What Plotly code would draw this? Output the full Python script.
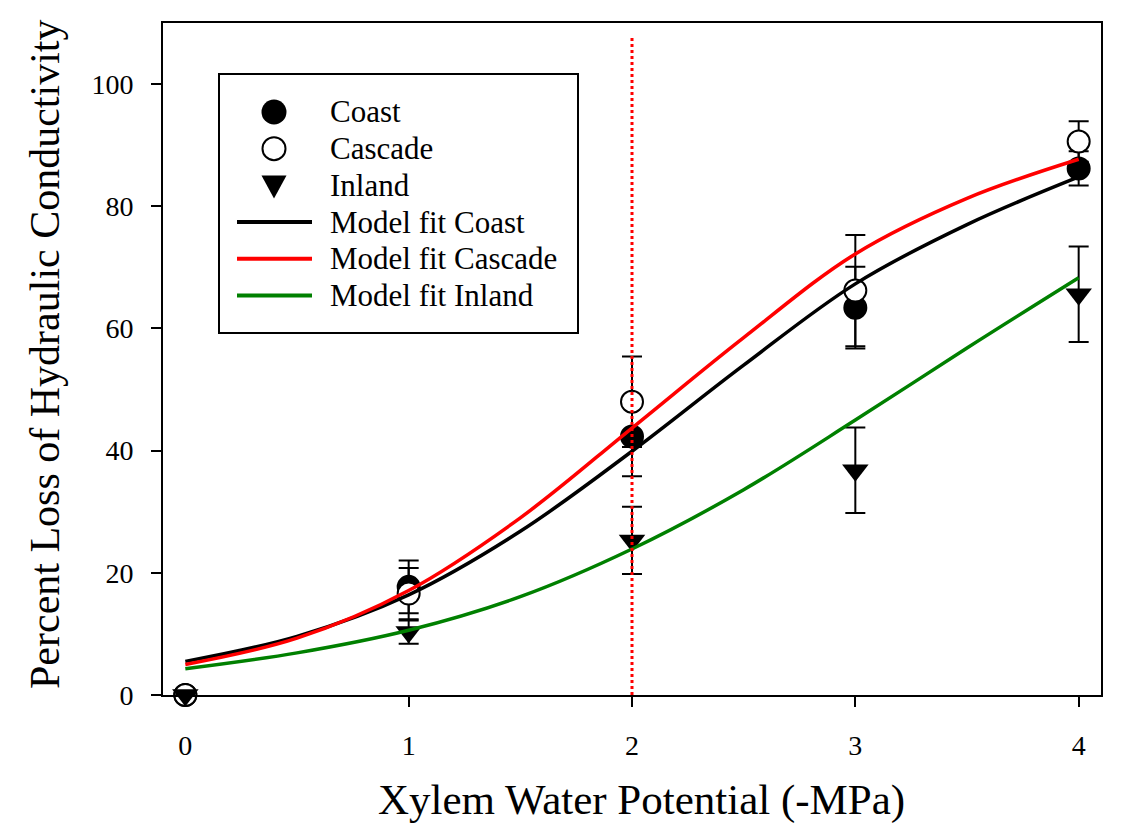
import plotly.graph_objects as go

# Measured percent loss of conductivity (mean and standard error) per site
water_potential = [0, 1, 2, 3, 4]
coast_plc = [0, 17.7, 42.3, 63.4, 86.2]
coast_se = [0, 4.3, 6.5, 6.7, 2.8]
cascade_plc = [0, 16.6, 48.0, 66.2, 90.6]
cascade_se = [0, 4.2, 7.4, 9.1, 3.3]
inland_plc = [0, 10.3, 25.3, 36.8, 65.6]
inland_se = [0, 1.9, 5.5, 7.0, 7.8]

# Fitted vulnerability curves
fit_x = [0, 0.5, 1, 1.5, 2, 2.5, 3, 3.5, 4]
fit_coast = [5.5, 9.6, 16.4, 26.8, 39.9, 54.0, 67.3, 77.0, 84.8]
fit_cascade = [5.0, 9.3, 17.1, 29.0, 43.7, 58.5, 72.2, 81.3, 87.7]
fit_inland = [4.3, 6.9, 10.6, 16.1, 23.9, 33.6, 45.0, 56.8, 68.3]

# Reference water potential marked with a dotted line
threshold_x = 2
threshold_top = 108

x_ticks = [0, 1, 2, 3, 4]
y_ticks = [0, 20, 40, 60, 80, 100]

SERIF = "Liberation Serif"
RED = "#ff0000"
GREEN = "#008000"

fig = go.Figure()


def err(values):
    return dict(type="data", array=values, visible=True, color="black",
                thickness=2, width=10)


fig.add_trace(go.Scatter(
    x=water_potential, y=coast_plc, mode="markers", name="Coast",
    marker=dict(symbol="circle", size=22, color="black",
                line=dict(color="black", width=2)),
    error_y=err(coast_se), cliponaxis=False, showlegend=False))
fig.add_trace(go.Scatter(
    x=water_potential, y=cascade_plc, mode="markers", name="Cascade",
    marker=dict(symbol="circle", size=22, color="white",
                line=dict(color="black", width=2)),
    error_y=err(cascade_se), cliponaxis=False, showlegend=False))
fig.add_trace(go.Scatter(
    x=water_potential, y=inland_plc, mode="markers", name="Inland",
    marker=dict(symbol="triangle-down", size=23, color="black",
                line=dict(color="black", width=0)),
    error_y=err(inland_se), cliponaxis=False, showlegend=False))

for name, ys, col in [("Model fit Coast", fit_coast, "black"),
                      ("Model fit Cascade", fit_cascade, RED),
                      ("Model fit Inland", fit_inland, GREEN)]:
    fig.add_trace(go.Scatter(
        x=fit_x, y=ys, mode="lines", name=name,
        line=dict(color=col, width=3.5, shape="spline", smoothing=1),
        showlegend=False))

# Plot area in pixels
PL, PR, PT, PB = 163, 1101, 23, 695


def px(xp):
    return (xp - PL) / (PR - PL)


def py(yp):
    return (PB - yp) / (PB - PT)


shapes = [dict(type="line", xref="x", yref="y", x0=threshold_x, x1=threshold_x,
               y0=0, y1=threshold_top, layer="above",
               line=dict(color=RED, width=3, dash="dot"))]

# Hand-built legend box
shapes.append(dict(type="rect", xref="paper", yref="paper",
                   x0=px(219), x1=px(578), y0=py(333), y1=py(74),
                   line=dict(color="black", width=2),
                   fillcolor="rgba(0,0,0,0)", layer="above"))

legend_rows = [("Coast", "filled"), ("Cascade", "open"), ("Inland", "tri"),
               ("Model fit Coast", "black"), ("Model fit Cascade", RED),
               ("Model fit Inland", GREEN)]
annotations = []
row0, row_step = 112, 36.7
key_cx, line_x0, line_x1, text_x = 274, 237, 312, 328
for i, (label, key) in enumerate(legend_rows):
    ry = row0 + i * row_step
    common = dict(xref="paper", yref="paper", xsizemode="pixel",
                  ysizemode="pixel", xanchor=px(key_cx), yanchor=py(ry),
                  layer="above")
    if key == "filled":
        shapes.append(dict(type="circle", x0=-12.5, x1=12.5, y0=-12.5, y1=12.5,
                           fillcolor="black", line=dict(width=0), **common))
    elif key == "open":
        shapes.append(dict(type="circle", x0=-11.5, x1=11.5, y0=-11.5, y1=11.5,
                           fillcolor="white", line=dict(color="black", width=2),
                           **common))
    elif key == "tri":
        shapes.append(dict(type="path", path="M-12.5,10 L12.5,10 L0,-13 Z",
                           fillcolor="black", line=dict(width=0), **common))
    else:
        shapes.append(dict(type="line", xref="paper", yref="paper",
                           x0=px(line_x0), x1=px(line_x1), y0=py(ry), y1=py(ry),
                           line=dict(color=key, width=4), layer="above"))
    annotations.append(dict(text=label, xref="paper", yref="paper",
                            x=px(text_x), y=py(ry), xanchor="left",
                            yanchor="middle", showarrow=False,
                            font=dict(family=SERIF, size=31, color="black")))

# Axis titles
annotations.append(dict(text="Xylem Water Potential (-MPa)", xref="paper",
                        yref="paper", x=px(641), y=py(800), xanchor="center",
                        yanchor="middle", showarrow=False,
                        font=dict(family=SERIF, size=43, color="black")))
annotations.append(dict(text="Percent Loss of Hydraulic Conductivity",
                        xref="paper", yref="paper", x=px(45), y=py(354),
                        xanchor="center", yanchor="middle", textangle=-90,
                        showarrow=False,
                        font=dict(family=SERIF, size=42, color="black")))

axis_common = dict(showgrid=False, zeroline=False, showline=True,
                   linecolor="black", linewidth=2, mirror=True,
                   ticks="outside", ticklen=10, tickwidth=2, tickcolor="black",
                   tickfont=dict(family=SERIF, size=28, color="black"))

fig.update_layout(
    width=1135, height=827,
    margin=dict(l=PL, r=1135 - PR, t=PT, b=827 - PB),
    paper_bgcolor="white", plot_bgcolor="white",
    xaxis=dict(range=[-0.1, 4.1], tickvals=x_ticks, ticklabelstandoff=14,
               **axis_common),
    yaxis=dict(range=[0, 110], tickvals=y_ticks, ticklabelstandoff=12,
               **axis_common),
    shapes=shapes, annotations=annotations, showlegend=False,
)

fig.write_html("out.html")
